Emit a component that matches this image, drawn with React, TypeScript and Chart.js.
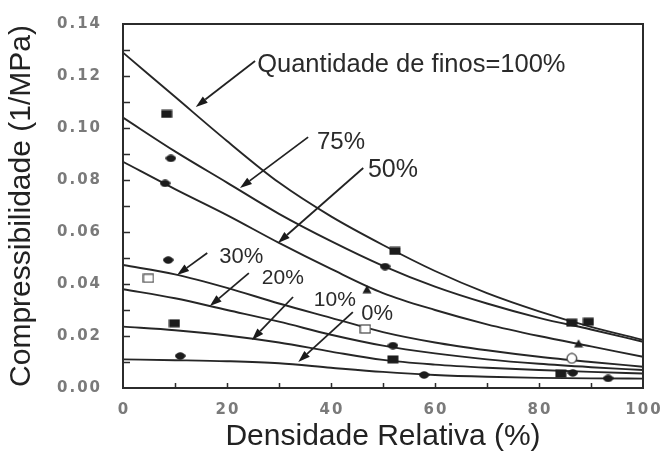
import { useEffect, useRef } from 'react';
import { Chart, registerables } from 'chart.js';

Chart.register(...registerables);

// Relative density (%) sampled along each fitted curve
const densidade = [0, 10, 20, 30, 40, 50, 60, 70, 80, 90, 100];

// Compressibility (1/MPa) of each fitted curve, by fines content
const finos100 = [0.129, 0.112, 0.095, 0.079, 0.066, 0.055, 0.045, 0.0365, 0.0295, 0.0235, 0.0185];
const finos75 = [0.104, 0.091, 0.079, 0.067, 0.0565, 0.047, 0.039, 0.0325, 0.027, 0.0225, 0.0178];
const finos50 = [0.087, 0.0765, 0.0665, 0.0558, 0.0458, 0.0365, 0.03, 0.0245, 0.02, 0.016, 0.012];
const finos30 = [0.0473, 0.0437, 0.0385, 0.0325, 0.027, 0.0215, 0.0175, 0.0145, 0.012, 0.01, 0.0082];
const finos20 = [0.038, 0.0345, 0.03, 0.0255, 0.0205, 0.0163, 0.0133, 0.011, 0.0093, 0.008, 0.0069];
const finos10 = [0.0236, 0.0222, 0.0202, 0.0175, 0.014, 0.0108, 0.009, 0.0078, 0.0069, 0.0062, 0.0056];
const finos0 = [0.011, 0.0107, 0.0103, 0.0095, 0.0078, 0.0062, 0.005, 0.0043, 0.0039, 0.0037, 0.0036];

// Measured points, grouped by symbol
const quadradoX = [8.4, 52.3, 86.3, 89.5, 9.9, 51.9, 84.2];
const quadradoY = [0.1054, 0.0527, 0.0251, 0.0255, 0.0249, 0.011, 0.0056];
const losangoX = [9.2, 8.1, 8.7, 11, 50.4, 51.9, 57.9, 86.5, 93.3];
const losangoY = [0.0883, 0.0787, 0.0492, 0.0123, 0.0467, 0.0163, 0.005, 0.0058, 0.0037];
const trianguloX = [46.9, 87.6];
const trianguloY = [0.038, 0.0172];
const quadradoAbertoX = [4.9, 46.6];
const quadradoAbertoY = [0.0422, 0.0227];
const circuloAbertoX = [86.3];
const circuloAbertoY = [0.0114];

// Axis ticks
const xRotulos = [0, 20, 40, 60, 80, 100];
const xMenores = [10, 20, 30, 40, 50, 60, 70, 80, 90];
const yRotulos = [0, 0.02, 0.04, 0.06, 0.08, 0.1, 0.12, 0.14];
const yMenores = [0.01, 0.02, 0.03, 0.04, 0.05, 0.06, 0.07, 0.08, 0.09, 0.1, 0.11, 0.12, 0.13];

// Curve callouts: text, text anchor (x, y), arrow start (x, y), arrow tip (x, y) in data units
const chamadaTexto = ['Quantidade de finos=100%', '75%', '50%', '30%', '20%', '10%', '0%'];
const chamadaTamanho = [25.5, 24, 25, 22, 21, 21, 22];
const chamadaTextoX = [25.8, 37.3, 47.1, 18.5, 26.7, 36.7, 45.8];
const chamadaTextoY = [0.1215, 0.0919, 0.0812, 0.0481, 0.04, 0.0315, 0.0262];
const setaInicioX = [25.4, 35.6, 46.2, 16.2, 24.2, 32.7, 44.2];
const setaInicioY = [0.1258, 0.0965, 0.0846, 0.0519, 0.0442, 0.035, 0.0292];
const setaPontaX = [14.0, 22.5, 29.8, 10.4, 16.7, 24.8, 33.7];
const setaPontaY = [0.1081, 0.0769, 0.0558, 0.0435, 0.0315, 0.0185, 0.01];

const pares = (xs: number[], ys: number[]) => xs.map((x, i) => ({ x, y: ys[i] }));

function simbolo(w: number, h: number, desenhar: (c: CanvasRenderingContext2D) => void) {
  const cv = document.createElement('canvas');
  cv.width = w;
  cv.height = h;
  const c = cv.getContext('2d') as CanvasRenderingContext2D;
  desenhar(c);
  return cv;
}

const TINTA = '#1c1c1c';

export default function App() {
  const ref = useRef<HTMLCanvasElement | null>(null);

  useEffect(() => {
    if (!ref.current) return;

    const quadrado = simbolo(12, 9, (c) => {
      c.fillStyle = TINTA;
      c.fillRect(0.5, 0.5, 11, 8);
    });
    const losango = simbolo(11, 8, (c) => {
      c.fillStyle = TINTA;
      c.beginPath();
      c.moveTo(0, 4);
      c.quadraticCurveTo(2, 0.3, 5.5, 0.3);
      c.quadraticCurveTo(9, 0.3, 11, 4);
      c.quadraticCurveTo(9, 7.7, 5.5, 7.7);
      c.quadraticCurveTo(2, 7.7, 0, 4);
      c.fill();
    });
    const triangulo = simbolo(10, 9, (c) => {
      c.fillStyle = TINTA;
      c.beginPath();
      c.moveTo(5, 0.5);
      c.lineTo(9.5, 8.5);
      c.lineTo(0.5, 8.5);
      c.closePath();
      c.fill();
    });
    const quadradoAberto = simbolo(12, 10, (c) => {
      c.fillStyle = '#fff';
      c.fillRect(1, 1, 10, 8);
      c.strokeStyle = '#444';
      c.lineWidth = 1.2;
      c.strokeRect(1, 1, 10, 8);
    });
    const circuloAberto = simbolo(12, 12, (c) => {
      c.fillStyle = '#fff';
      c.strokeStyle = '#444';
      c.lineWidth = 1.3;
      c.beginPath();
      c.arc(6, 6, 4.8, 0, Math.PI * 2);
      c.fill();
      c.stroke();
    });

    const curva = (serie: number[]) => ({
      type: 'line' as const,
      data: pares(densidade, serie),
      borderColor: '#262626',
      borderWidth: 1.9,
      pointRadius: 0,
      cubicInterpolationMode: 'monotone' as const,
      fill: false,
    });
    const pontos = (xs: number[], ys: number[], estilo: HTMLCanvasElement) => ({
      type: 'scatter' as const,
      data: pares(xs, ys),
      pointStyle: estilo,
      pointRadius: 5,
      showLine: false,
    });

    const molduraEChamadas = {
      id: 'molduraEChamadas',
      afterDraw(chart: any) {
        const { ctx, chartArea: a, scales } = chart;
        const sx = scales.x;
        const sy = scales.y;
        ctx.save();

        // frame
        ctx.strokeStyle = '#2b2b2b';
        ctx.lineWidth = 2;
        ctx.strokeRect(a.left, a.top, a.right - a.left, a.bottom - a.top);

        // inward tick marks
        ctx.lineWidth = 1.5;
        ctx.beginPath();
        yMenores.forEach((v) => {
          const py = Math.round(sy.getPixelForValue(v)) + 0.5;
          ctx.moveTo(a.left, py);
          ctx.lineTo(a.left + 7, py);
        });
        xMenores.forEach((v) => {
          const px = Math.round(sx.getPixelForValue(v)) + 0.5;
          ctx.moveTo(px, a.bottom);
          ctx.lineTo(px, a.bottom - 5);
        });
        ctx.stroke();

        // tick labels
        ctx.fillStyle = '#7a7a7a';
        ctx.font = 'bold 15px "DejaVu Sans"';
        (ctx as any).letterSpacing = '2px';
        ctx.textBaseline = 'middle';
        ctx.textAlign = 'right';
        yRotulos.forEach((v) => {
          ctx.fillText(v.toFixed(2), 102, sy.getPixelForValue(v));
        });
        ctx.textAlign = 'center';
        xRotulos.forEach((v) => {
          ctx.fillText(String(v), sx.getPixelForValue(v) + 1, 410);
        });
        (ctx as any).letterSpacing = '0px';

        // callouts
        ctx.strokeStyle = '#222';
        ctx.textAlign = 'left';
        ctx.textBaseline = 'alphabetic';
        chamadaTexto.forEach((t, i) => {
          ctx.fillStyle = '#2a2a2a';
          ctx.font = `${chamadaTamanho[i]}px "Liberation Sans", Arial, sans-serif`;
          ctx.fillText(t, sx.getPixelForValue(chamadaTextoX[i]), sy.getPixelForValue(chamadaTextoY[i]));

          const x0 = sx.getPixelForValue(setaInicioX[i]);
          const y0 = sy.getPixelForValue(setaInicioY[i]);
          const x1 = sx.getPixelForValue(setaPontaX[i]);
          const y1 = sy.getPixelForValue(setaPontaY[i]);
          const ang = Math.atan2(y1 - y0, x1 - x0);
          const comp = 12;
          const larg = 4;
          const bx = x1 - comp * Math.cos(ang);
          const by = y1 - comp * Math.sin(ang);
          ctx.lineWidth = 1.8;
          ctx.beginPath();
          ctx.moveTo(x0, y0);
          ctx.lineTo(bx, by);
          ctx.stroke();
          ctx.beginPath();
          ctx.moveTo(x1, y1);
          ctx.lineTo(bx + larg * Math.sin(ang), by - larg * Math.cos(ang));
          ctx.lineTo(bx - larg * Math.sin(ang), by + larg * Math.cos(ang));
          ctx.closePath();
          ctx.fillStyle = '#1a1a1a';
          ctx.fill();
        });

        ctx.restore();
      },
    };

    const chart = new Chart(ref.current, {
      type: 'scatter',
      data: {
        datasets: [
          pontos(quadradoX, quadradoY, quadrado),
          pontos(losangoX, losangoY, losango),
          pontos(trianguloX, trianguloY, triangulo),
          pontos(quadradoAbertoX, quadradoAbertoY, quadradoAberto),
          pontos(circuloAbertoX, circuloAbertoY, circuloAberto),
          curva(finos100),
          curva(finos75),
          curva(finos50),
          curva(finos30),
          curva(finos20),
          curva(finos10),
          curva(finos0),
        ] as any,
      },
      options: {
        responsive: false,
        animation: false,
        events: [],
        layout: { padding: { top: 24, right: 24, left: 0, bottom: 0 } },
        plugins: { legend: { display: false }, tooltip: { enabled: false } },
        scales: {
          x: {
            type: 'linear',
            min: 0,
            max: 100,
            grid: { display: false },
            border: { display: false },
            ticks: { display: false, stepSize: 10 },
            title: {
              display: true,
              text: 'Densidade Relativa (%)',
              color: '#222',
              font: { family: '"Liberation Sans", Arial, sans-serif', size: 30 },
              padding: { top: 0, bottom: 1 },
            },
            afterFit: (s: any) => {
              s.height = 68;
            },
          },
          y: {
            type: 'linear',
            min: 0,
            max: 0.14,
            grid: { display: false },
            border: { display: false },
            ticks: { display: false, stepSize: 0.01 },
            title: {
              display: true,
              text: 'Compressibilidade (1/MPa)',
              color: '#222',
              font: { family: '"Liberation Sans", Arial, sans-serif', size: 30 },
              padding: { top: 4, bottom: 0 },
            },
            afterFit: (s: any) => {
              s.width = 123;
            },
          },
        },
      },
      plugins: [molduraEChamadas],
    });

    return () => chart.destroy();
  }, []);

  return (
    <div style={{ position: 'absolute', left: 0, top: 0, width: 667, height: 456, background: '#fff' }}>
      <canvas ref={ref} width={667} height={456} />
    </div>
  );
}
